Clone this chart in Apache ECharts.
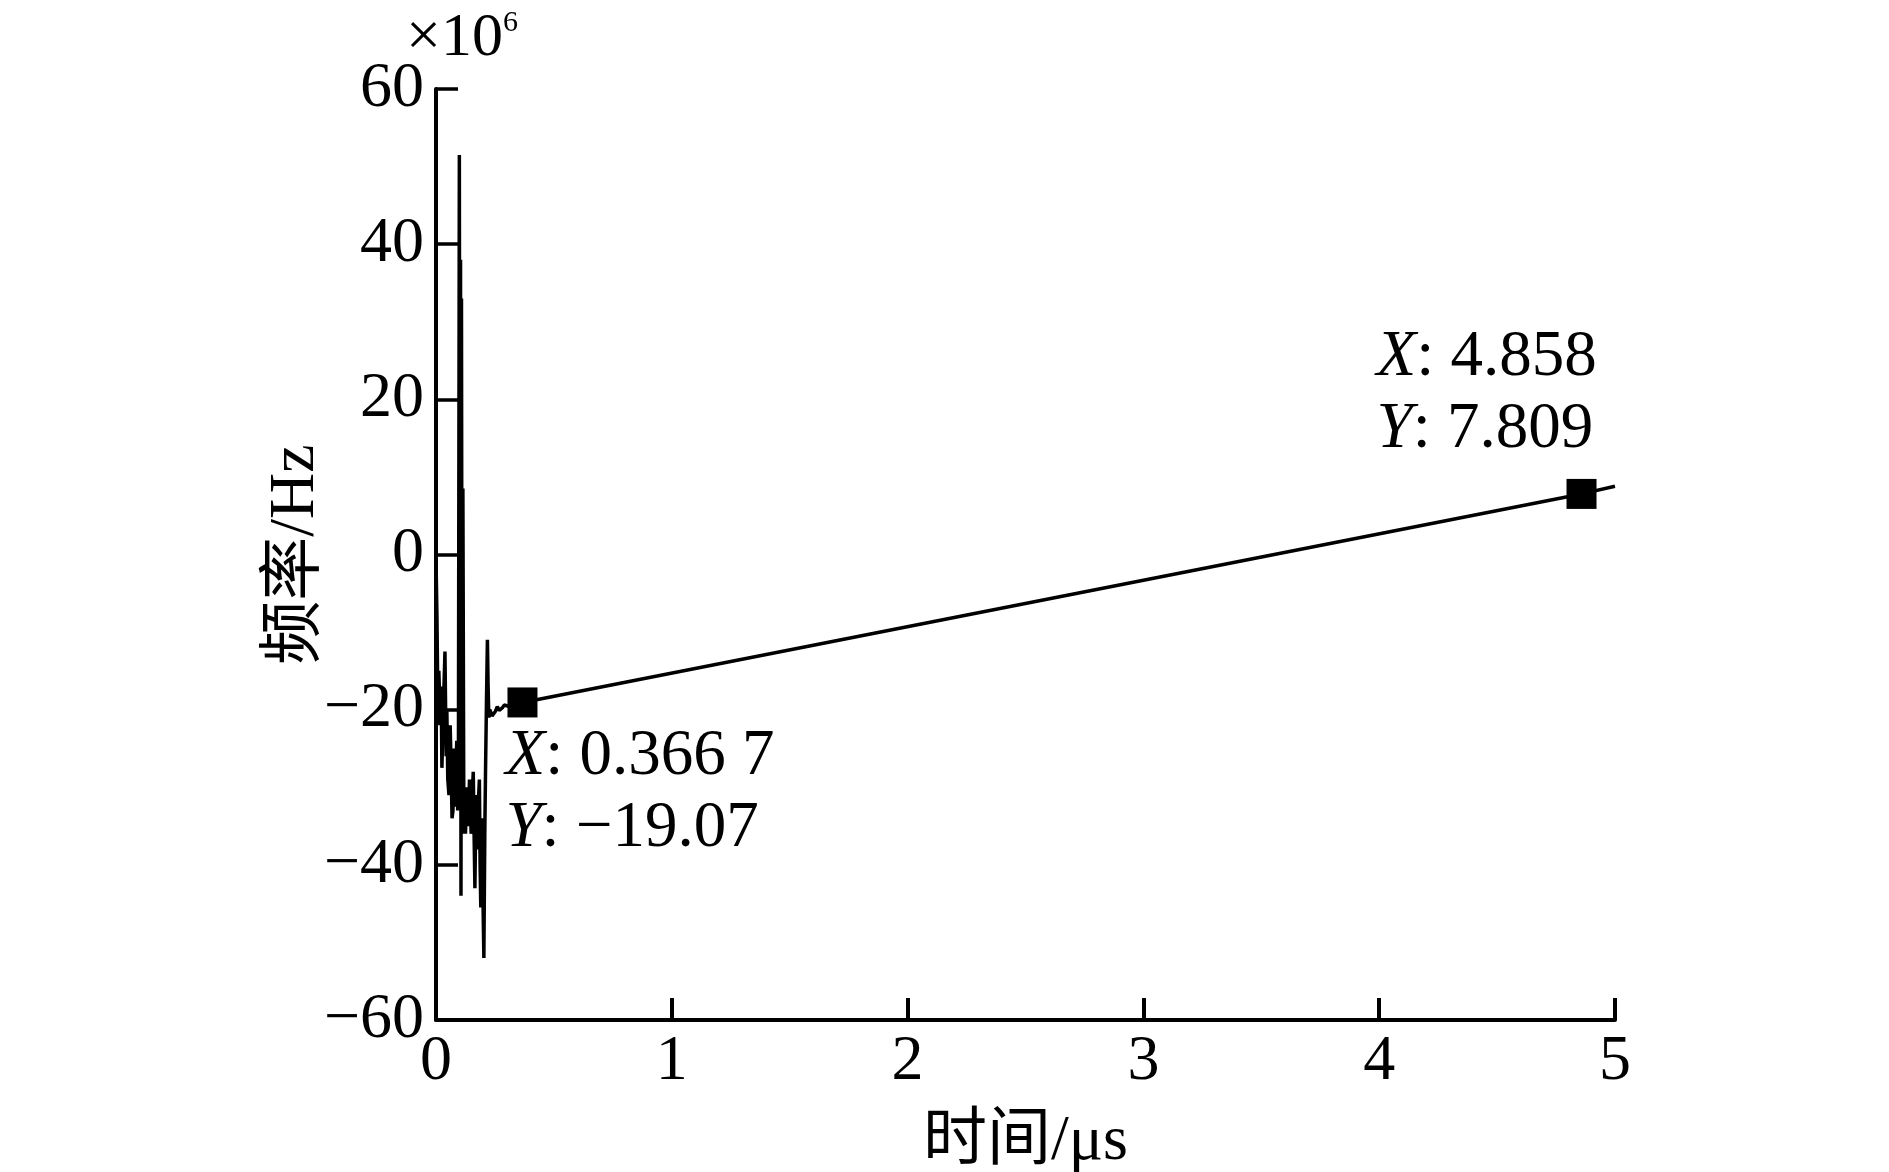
<!DOCTYPE html>
<html>
<head>
<meta charset="utf-8">
<script src="https://cdn.jsdelivr.net/npm/echarts@6/dist/echarts.min.js"></script>
<style>
html,body{margin:0;padding:0;background:#fff;}
#c{width:1889px;height:1172px;}
</style>
</head>
<body>
<div id="c"></div>
<script>
// time in microseconds, frequency in 1e6 Hz
const timeUs = [0, 0.004, 0.009, 0.012, 0.018, 0.022, 0.025, 0.032, 0.038, 0.043, 0.046, 0.05, 0.055, 0.06, 0.064,
  0.068, 0.072, 0.076, 0.08, 0.084, 0.088, 0.092, 0.095,
  0.099, 0.102, 0.104, 0.106, 0.108, 0.111, 0.114, 0.118, 0.122, 0.125, 0.129, 0.132, 0.135, 0.138, 0.142,
  0.145, 0.149, 0.152, 0.155, 0.158, 0.162,
  0.165, 0.169, 0.172, 0.175, 0.178, 0.181, 0.184, 0.187, 0.19, 0.193, 0.196, 0.2, 0.203, 0.207, 0.21, 0.214,
  0.218, 0.221, 0.224, 0.228, 0.232, 0.238, 0.245, 0.252, 0.26, 0.268, 0.275, 0.283, 0.29, 0.31, 0.33,
  0.3667, 4.858, 5.0];
const freqMHz = [-0.5, -8, -22, -15, -21, -17, -27.5, -19, -12.5, -26, -20, -29, -31, -22, -27,
  -34, -33, -25, -32.5, -28, -24, -33, -29,
  51.5, -30, 38, -44, 33, -36, 8.5, -34, -30, -36, -32, -30, -34, -35, -29,
  -31, -36, -35.5, -30, -28, -37,
  -43, -33, -31, -38, -36, -31, -29, -40, -45.5, -37, -34, -46, -52, -36, -28, -19,
  -11, -17, -21, -20, -20.3, -20.8, -21, -20.2, -19.6, -20.1, -20.2, -19.7, -19.4, -19.6, -19.3,
  -19.07, 7.809, 8.8];
const markerX = [0.3667, 4.858];
const markerY = [-19.07, 7.809];
const markerTextX = ['0.366 7', '4.858'];
const markerTextY = ['−19.07', '7.809'];
const xTicks = [0, 1, 2, 3, 4, 5];
const yTicks = [-60, -40, -20, 0, 20, 40, 60];

const serif = "'Liberation Serif', 'Noto Sans CJK SC', serif";
const lineData = timeUs.map((t, i) => [t, freqMHz[i]]);
const markerLabelPos = [[-2, 33], [-190, -157]];
const markerData = markerX.map((x, i) => ({
  value: [x, markerY[i]],
  label: {
    position: markerLabelPos[i],
    formatter: '{i|X}: ' + markerTextX[i] + '\n{i|Y}: ' + markerTextY[i]
  }
}));

const chart = echarts.init(document.getElementById('c'));
chart.setOption({
  animation: false,
  backgroundColor: '#fff',
  grid: {left: 436, right: 274, top: 89, bottom: 152, containLabel: false, outerBoundsMode: 'none'},
  xAxis: {
    type: 'value', min: xTicks[0], max: xTicks[xTicks.length - 1], interval: 1,
    name: '时间/μs', nameLocation: 'middle', nameGap: 90, nameMoveOverlap: false,
    nameTextStyle: {fontFamily: serif, fontSize: 64, color: '#000'},
    axisLine: {onZero: false, lineStyle: {color: '#000', width: 4}},
    axisTick: {inside: true, length: 22, lineStyle: {color: '#000', width: 4}},
    axisLabel: {margin: 10, fontFamily: serif, fontSize: 64, color: '#000'},
    splitLine: {show: false}
  },
  yAxis: {
    type: 'value', min: yTicks[0], max: yTicks[yTicks.length - 1], interval: 20,
    name: '频率/Hz', nameLocation: 'middle', nameGap: 108, nameRotate: 90, nameMoveOverlap: false,
    nameTextStyle: {fontFamily: serif, fontSize: 64, color: '#000'},
    axisLine: {show: true, onZero: false, lineStyle: {color: '#000', width: 4}},
    axisTick: {show: true, inside: true, length: 22, lineStyle: {color: '#000', width: 3.5}},
    axisLabel: {margin: 12, fontFamily: serif, fontSize: 64, color: '#000',
      formatter: v => v < 0 ? '−' + Math.abs(v) : String(v)},
    splitLine: {show: false}
  },
  graphic: [{
    type: 'text', left: 406, top: 8,
    style: {
      text: '×10{sup|6}', fontFamily: serif, fontSize: 62, fill: '#000',
      rich: {sup: {fontSize: 30, fontFamily: serif, verticalAlign: 'top', fill: '#000'}}
    }
  }],
  series: [{
    type: 'line', data: lineData, showSymbol: false, symbol: 'none',
    lineStyle: {color: '#000', width: 3.5, opacity: 1}, z: 2
  }, {
    type: 'scatter', data: markerData, symbol: 'rect', symbolSize: 30,
    itemStyle: {color: '#000', opacity: 1}, z: 3,
    label: {
      show: true, fontFamily: serif, fontSize: 65, color: '#000', opacity: 1, lineHeight: 72,
      align: 'left', verticalAlign: 'top',
      rich: {i: {fontFamily: serif, fontStyle: 'italic', fontSize: 65, color: '#000', lineHeight: 72}}
    }
  }]
});
</script>
</body>
</html>
